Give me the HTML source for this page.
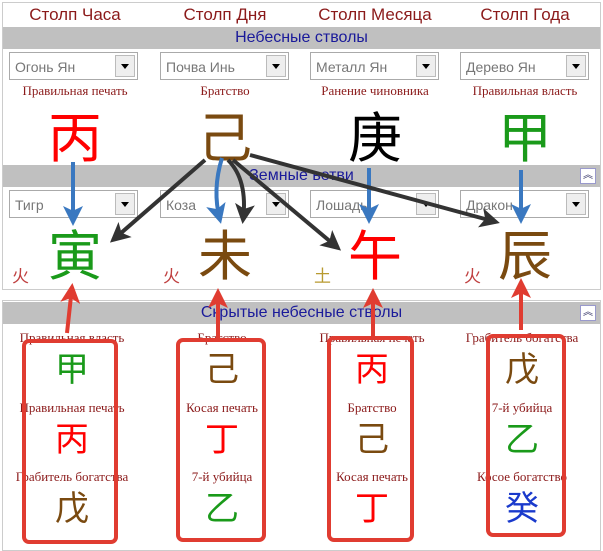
<!DOCTYPE html>
<html><head><meta charset="utf-8"><style>
body{margin:0;width:603px;height:551px;background:#fff;position:relative;overflow:hidden;font-family:"Liberation Sans","Noto Sans CJK SC",sans-serif}
.a{position:absolute}
.hd{color:#8b1a1a;font-size:17px;text-align:center;width:150px;top:5px}
.bar{left:3px;width:597px;height:22px;background:#c0c0c0;color:#1a1a9a;font-size:16px;text-align:center;line-height:22px}
.sel{width:129px;height:28px;border:1px solid #aaa;background:#fff;font-size:14px;color:#777;line-height:28px;box-sizing:border-box;padding-left:5px}
.sel i{position:absolute;right:2px;top:2px;width:20px;height:22px;background:#eee;border:1px solid #bbb;box-sizing:border-box}
.sel i:after{content:"";position:absolute;left:5px;top:8px;border-left:4px solid transparent;border-right:4px solid transparent;border-top:5px solid #000}
.lb{color:#8b1a1a;font-family:"Liberation Serif","Noto Serif CJK SC",serif;font-size:13px;text-align:center;width:150px}
.big{font-family:"Noto Sans CJK SC",sans-serif;font-size:54px;text-align:center;width:150px;line-height:60px}
.hc{font-family:"Noto Sans CJK SC",sans-serif;font-size:34px;text-align:center;width:150px;line-height:40px}
.hl{color:#8b1a1a;font-family:"Liberation Serif",serif;font-size:13px;text-align:center;width:150px}
.box{border:4px solid #e03c31;border-radius:7px;box-sizing:border-box}
</style></head><body>
<div class="a" style="left:2px;top:2px;width:597px;height:286px;border:1px solid #ccc"></div>
<div class="a" style="left:2px;top:300px;width:597px;height:249px;border:1px solid #ccc"></div>
<div class="a hd" style="left:0">Столп Часа</div>
<div class="a hd" style="left:150px">Столп Дня</div>
<div class="a hd" style="left:300px">Столп Месяца</div>
<div class="a hd" style="left:450px">Столп Года</div>
<div class="a bar" style="top:27px">Небесные стволы</div>
<div class="a sel" style="left:9px;top:52px">Огонь Ян<i></i></div>
<div class="a sel" style="left:160px;top:52px">Почва Инь<i></i></div>
<div class="a sel" style="left:310px;top:52px">Металл Ян<i></i></div>
<div class="a sel" style="left:460px;top:52px">Дерево Ян<i></i></div>
<div class="a lb" style="left:0;top:83px">Правильная печать</div>
<div class="a lb" style="left:150px;top:83px">Братство</div>
<div class="a lb" style="left:300px;top:83px">Ранение чиновника</div>
<div class="a lb" style="left:450px;top:83px">Правильная власть</div>
<div class="a big" style="left:0;top:104px;color:#f00">丙</div>
<div class="a big" style="left:150px;top:104px;color:#7a4a10">己</div>
<div class="a big" style="left:300px;top:104px;color:#000">庚</div>
<div class="a big" style="left:450px;top:104px;color:#1a9a1a">甲</div>
<div class="a bar" style="top:165px">Земные ветви</div>
<div class="a" style="left:580px;top:168px;width:14px;height:14px;border:1px solid #99c;background:#fff;font-size:10px;text-align:center;line-height:14px;color:#336">︽</div>
<div class="a sel" style="left:9px;top:190px">Тигр<i></i></div>
<div class="a sel" style="left:160px;top:190px">Коза<i></i></div>
<div class="a sel" style="left:310px;top:190px">Лошадь<i></i></div>
<div class="a sel" style="left:460px;top:190px">Дракон<i></i></div>
<div class="a big" style="left:0;top:222px;color:#1a9a1a">寅</div>
<div class="a big" style="left:150px;top:222px;color:#7a4a10">未</div>
<div class="a big" style="left:300px;top:222px;color:#f00">午</div>
<div class="a big" style="left:450px;top:222px;color:#7a4a10">辰</div>
<div class="a" style="left:12px;top:262px;font-size:17px;color:#c04040;font-family:'Noto Sans CJK SC'">火</div>
<div class="a" style="left:163px;top:262px;font-size:17px;color:#c04040;font-family:'Noto Sans CJK SC'">火</div>
<div class="a" style="left:314px;top:262px;font-size:17px;color:#b89a30;font-family:'Noto Sans CJK SC'">土</div>
<div class="a" style="left:464px;top:262px;font-size:17px;color:#c04040;font-family:'Noto Sans CJK SC'">火</div>
<div class="a bar" style="top:302px">Скрытые небесные стволы</div>
<div class="a" style="left:580px;top:305px;width:14px;height:14px;border:1px solid #99c;background:#fff;font-size:10px;text-align:center;line-height:14px;color:#336">︽</div>

<div class="a hl" style="left:-3px;top:330px">Правильная власть</div>
<div class="a hc" style="left:-3px;top:347px;color:#1a9a1a">甲</div>
<div class="a hl" style="left:-3px;top:400px">Правильная печать</div>
<div class="a hc" style="left:-3px;top:417px;color:#f00">丙</div>
<div class="a hl" style="left:-3px;top:469px">Грабитель богатства</div>
<div class="a hc" style="left:-3px;top:486px;color:#7a4a10">戊</div>

<div class="a hl" style="left:147px;top:330px">Братство</div>
<div class="a hc" style="left:147px;top:347px;color:#7a4a10">己</div>
<div class="a hl" style="left:147px;top:400px">Косая печать</div>
<div class="a hc" style="left:147px;top:417px;color:#f00">丁</div>
<div class="a hl" style="left:147px;top:469px">7-й убийца</div>
<div class="a hc" style="left:147px;top:486px;color:#1a9a1a">乙</div>

<div class="a hl" style="left:297px;top:330px">Правильная печать</div>
<div class="a hc" style="left:297px;top:347px;color:#f00">丙</div>
<div class="a hl" style="left:297px;top:400px">Братство</div>
<div class="a hc" style="left:297px;top:417px;color:#7a4a10">己</div>
<div class="a hl" style="left:297px;top:469px">Косая печать</div>
<div class="a hc" style="left:297px;top:486px;color:#f00">丁</div>

<div class="a hl" style="left:447px;top:330px">Грабитель богатства</div>
<div class="a hc" style="left:447px;top:347px;color:#7a4a10">戊</div>
<div class="a hl" style="left:447px;top:400px">7-й убийца</div>
<div class="a hc" style="left:447px;top:417px;color:#1a9a1a">乙</div>
<div class="a hl" style="left:447px;top:469px">Косое богатство</div>
<div class="a hc" style="left:447px;top:486px;color:#1a3acc">癸</div>

<div class="a box" style="left:22px;top:339px;width:96px;height:205px"></div>
<div class="a box" style="left:176px;top:338px;width:90px;height:204px"></div>
<div class="a box" style="left:327px;top:336px;width:87px;height:206px"></div>
<div class="a box" style="left:486px;top:334px;width:80px;height:203px"></div>

<svg class="a" style="left:0;top:0" width="603" height="551">
<defs>
<marker id="bl" markerWidth="5" markerHeight="5" refX="4" refY="2.5" orient="auto" markerUnits="strokeWidth"><path d="M0,0L5,2.5L0,5L1.2,2.5z" fill="#3a78c0"/></marker>
<marker id="bk" markerWidth="5" markerHeight="5" refX="4" refY="2.5" orient="auto" markerUnits="strokeWidth"><path d="M0,0L5,2.5L0,5L1.2,2.5z" fill="#333"/></marker>
<marker id="rd" markerWidth="5" markerHeight="5" refX="4" refY="2.5" orient="auto" markerUnits="strokeWidth"><path d="M0,0L5,2.5L0,5L1.2,2.5z" fill="#e03c31"/></marker>
</defs>
<g stroke-width="4" fill="none">
<path d="M73,162L73,222" stroke="#3a78c0" marker-end="url(#bl)"/>
<path d="M222,158Q212,190 220,220" stroke="#3a78c0" marker-end="url(#bl)"/>
<path d="M369,168L369,220" stroke="#3a78c0" marker-end="url(#bl)"/>
<path d="M521,170L521,220" stroke="#3a78c0" marker-end="url(#bl)"/>
<path d="M205,160L113,240" stroke="#333" marker-end="url(#bk)"/>
<path d="M228,160Q248,180 243,220" stroke="#333" marker-end="url(#bk)"/>
<path d="M233,160L338,248" stroke="#333" marker-end="url(#bk)"/>
<path d="M250,155L496,222" stroke="#333" marker-end="url(#bk)"/>
<path d="M67,333L72,287" stroke="#e03c31" marker-end="url(#rd)"/>
<path d="M218,338L218,292" stroke="#e03c31" marker-end="url(#rd)"/>
<path d="M373,338L373,292" stroke="#e03c31" marker-end="url(#rd)"/>
<path d="M521,330L521,282" stroke="#e03c31" marker-end="url(#rd)"/>
</g></svg>
</body></html>
